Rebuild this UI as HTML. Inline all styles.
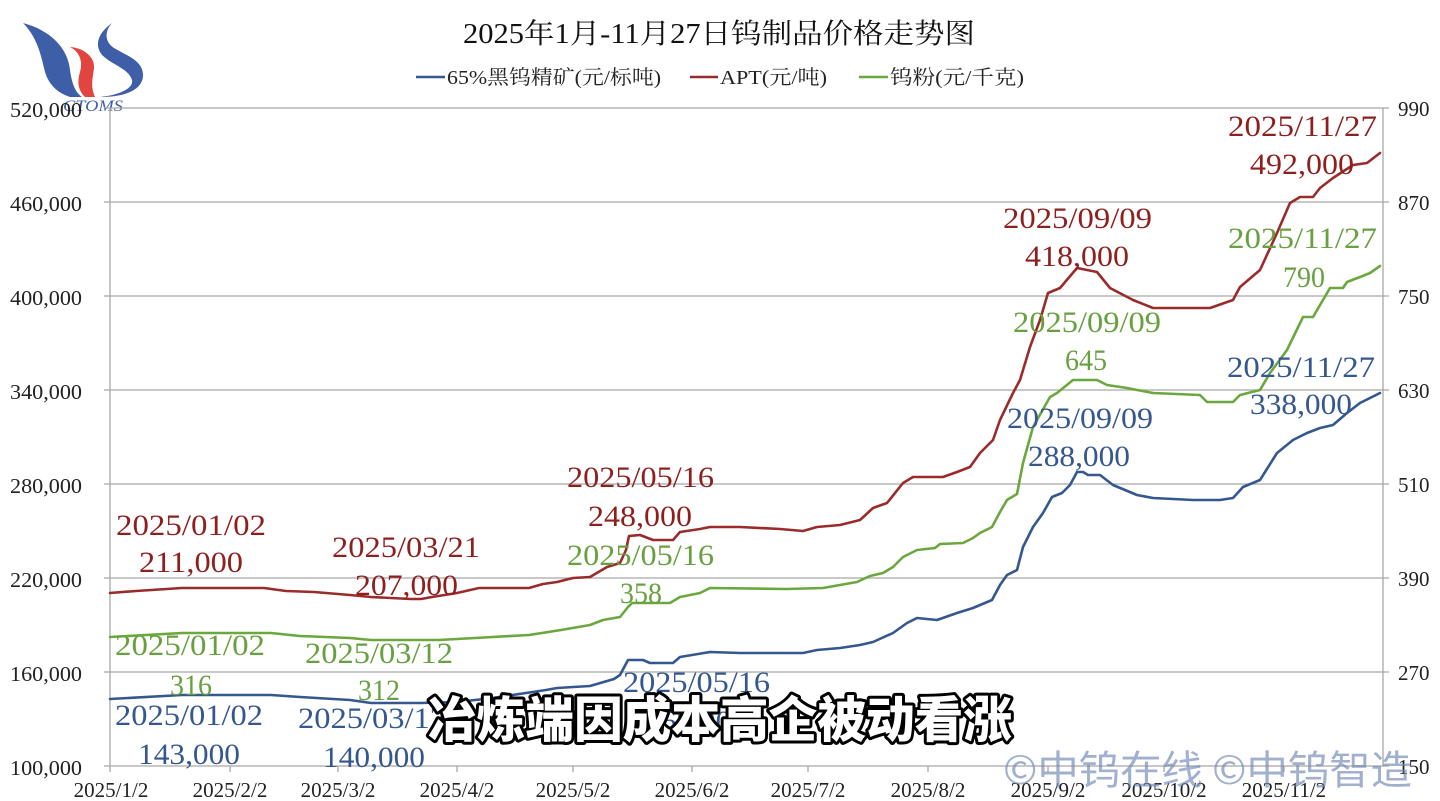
<!DOCTYPE html>
<html><head><meta charset="utf-8"><style>
html,body{margin:0;padding:0;background:#fff;}
svg{display:block;}
.ax{font-family:"Liberation Serif","Noto Serif CJK SC",serif;font-size:21px;fill:#222;}
.lb{font-family:"Liberation Serif","Noto Serif CJK SC",serif;font-size:30px;}
.r{fill:#8e1f1f;} .g{fill:#68a040;} .b{fill:#34578f;}
</style></head><body>
<svg width="1440" height="801" viewBox="0 0 1440 801" xmlns="http://www.w3.org/2000/svg">
<rect width="1440" height="801" fill="#fff"/>
<!-- logo -->
<path d="M23,23 C50,30 68,48 70,70 C72,85 76,93 82,97 L70,97 C55,92 47,82 44,68 C40,50 35,35 23,23 Z" fill="#3f5ea8"/>
<path d="M70,47 C85,48 95,58 94,68 C93,78 90,85 95,97 L85,97 C78,90 77,82 80,72 C83,62 80,52 70,47 Z" fill="#e0463f"/>
<path d="M112,23 C98,33 94,45 102,55 C112,65 128,68 132,80 C134,88 120,95 100,97 C125,97 143,90 143,75 C143,60 125,55 114,48 C105,42 104,32 112,23 Z" fill="#3f5ea8"/>
<text x="63" y="111" font-family="Liberation Serif,serif" font-style="italic" font-size="16" fill="#3f5ea8" textLength="60" lengthAdjust="spacingAndGlyphs">CTOMS</text>
<!-- title -->
<text x="463" y="43" font-family="Liberation Serif,'Noto Serif CJK SC',serif" font-size="28" fill="#111" textLength="512" lengthAdjust="spacingAndGlyphs">2025年1月-11月27日钨制品价格走势图</text>
<!-- legend -->
<line x1="416" y1="77" x2="445" y2="77" stroke="#34578f" stroke-width="2.5"/>
<text x="447" y="84" font-family="Liberation Serif,'Noto Serif CJK SC',serif" font-size="20" fill="#222" textLength="214" lengthAdjust="spacingAndGlyphs">65%黑钨精矿(元/标吨)</text>
<line x1="690" y1="77" x2="718" y2="77" stroke="#9a2b2b" stroke-width="2.5"/>
<text x="720" y="84" font-family="Liberation Serif,'Noto Serif CJK SC',serif" font-size="20" fill="#222" textLength="107" lengthAdjust="spacingAndGlyphs">APT(元/吨)</text>
<line x1="859" y1="77" x2="888" y2="77" stroke="#6aa83e" stroke-width="2.5"/>
<text x="890" y="84" font-family="Liberation Serif,'Noto Serif CJK SC',serif" font-size="20" fill="#222" textLength="134" lengthAdjust="spacingAndGlyphs">钨粉(元/千克)</text>
<!-- grid -->
<g stroke="#a8a8a8" stroke-width="1.3">
<line x1="104" y1="108" x2="1389" y2="108"/>
<line x1="104" y1="202" x2="1389" y2="202"/>
<line x1="104" y1="296" x2="1389" y2="296"/>
<line x1="104" y1="390" x2="1389" y2="390"/>
<line x1="104" y1="484" x2="1389" y2="484"/>
<line x1="104" y1="578" x2="1389" y2="578"/>
<line x1="104" y1="672" x2="1389" y2="672"/>
<line x1="104" y1="766" x2="1389" y2="766"/>
<line x1="110" y1="108" x2="110" y2="772"/>
<line x1="1383" y1="108" x2="1383" y2="766"/>
<line x1="230" y1="766" x2="230" y2="772"/>
<line x1="338" y1="766" x2="338" y2="772"/>
<line x1="457" y1="766" x2="457" y2="772"/>
<line x1="573" y1="766" x2="573" y2="772"/>
<line x1="692" y1="766" x2="692" y2="772"/>
<line x1="808" y1="766" x2="808" y2="772"/>
<line x1="928" y1="766" x2="928" y2="772"/>
<line x1="1048" y1="766" x2="1048" y2="772"/>
<line x1="1164" y1="766" x2="1164" y2="772"/>
<line x1="1284" y1="766" x2="1284" y2="772"/>
</g>
<!-- left axis labels -->
<g class="ax" text-anchor="end">
<text x="82" y="117" textLength="72" lengthAdjust="spacingAndGlyphs">520,000</text>
<text x="82" y="211" textLength="72" lengthAdjust="spacingAndGlyphs">460,000</text>
<text x="82" y="305" textLength="72" lengthAdjust="spacingAndGlyphs">400,000</text>
<text x="82" y="399" textLength="72" lengthAdjust="spacingAndGlyphs">340,000</text>
<text x="82" y="493" textLength="72" lengthAdjust="spacingAndGlyphs">280,000</text>
<text x="82" y="587" textLength="72" lengthAdjust="spacingAndGlyphs">220,000</text>
<text x="82" y="681" textLength="72" lengthAdjust="spacingAndGlyphs">160,000</text>
<text x="82" y="775" textLength="72" lengthAdjust="spacingAndGlyphs">100,000</text>
</g>
<g class="ax">
<text x="1398" y="116">990</text>
<text x="1398" y="210">870</text>
<text x="1398" y="304">750</text>
<text x="1398" y="398">630</text>
<text x="1398" y="492">510</text>
<text x="1398" y="586">390</text>
<text x="1398" y="680">270</text>
<text x="1398" y="774">150</text>
</g>
<g class="ax" text-anchor="middle">
<text x="111" y="797">2025/1/2</text>
<text x="230" y="797">2025/2/2</text>
<text x="338" y="797">2025/3/2</text>
<text x="457" y="797">2025/4/2</text>
<text x="573" y="797">2025/5/2</text>
<text x="692" y="797">2025/6/2</text>
<text x="808" y="797">2025/7/2</text>
<text x="928" y="797">2025/8/2</text>
<text x="1048" y="797">2025/9/2</text>
<text x="1164" y="797">2025/10/2</text>
<text x="1284" y="797">2025/11/2</text>
</g>
<!-- series -->
<g fill="none" stroke-width="2.6" stroke-linejoin="round" stroke-linecap="round">
<polyline stroke="#9a2b2b" points="110,593 136,591 182,588 264,588 286,591 314,592 350,595 371,597 411,599 421,599 432,597 457,593 479,588 529,588 543,584 557,582 573,578 590,577 607,567 620,563 626,550 629,536 640,535 653,540 673,540 680,532 700,529 710,527 740,527 780,529 803,531 817,527 840,525 860,520 873,508 887,503 903,483 913,477 943,477 957,472 970,467 980,453 993,440 1000,420 1013,393 1020,380 1030,347 1040,320 1048,293 1060,288 1077,268 1097,272 1110,288 1133,300 1153,308 1210,308 1233,300 1240,287 1260,270 1277,233 1290,203 1300,197 1313,197 1320,188 1333,178 1353,165 1367,163 1380,153"/>
<polyline stroke="#6aa83e" points="110,637 182,633 271,633 300,636 350,638 371,640 439,640 475,638 529,635 561,630 590,625 603,620 620,617 628,607 632,603 670,603 680,597 700,593 710,588 787,589 823,588 840,585 857,582 870,576 883,573 893,567 903,557 917,550 935,548 940,544 963,543 973,538 980,533 992,527 1000,512 1007,500 1017,494 1023,463 1033,427 1050,397 1057,393 1073,380 1097,380 1107,385 1127,388 1153,393 1200,395 1207,402 1233,402 1240,395 1260,390 1270,373 1287,350 1303,317 1313,317 1330,288 1343,288 1347,282 1360,277 1370,273 1380,266"/>
<polyline stroke="#34578f" points="110,699 182,695 271,695 300,697 350,700 371,703 421,703 457,702 493,698 546,690 557,688 590,686 614,679 620,675 628,660 643,660 650,663 673,663 680,657 710,652 740,653 803,653 817,650 840,648 860,645 873,642 893,633 907,623 917,618 937,620 957,613 973,608 992,600 1000,585 1007,575 1017,570 1023,547 1033,527 1043,513 1052,497 1062,493 1070,485 1077,472 1083,472 1088,475 1100,475 1113,485 1137,495 1153,498 1193,500 1220,500 1233,498 1243,487 1260,480 1277,453 1293,440 1307,433 1320,428 1333,425 1347,413 1360,403 1380,393"/>
</g>
<!-- data labels -->
<g class="lb">
<text class="r" x="116" y="535" textLength="150" lengthAdjust="spacingAndGlyphs">2025/01/02</text>
<text class="r" x="139" y="572" textLength="104" lengthAdjust="spacingAndGlyphs">211,000</text>
<text class="r" x="332" y="557" textLength="148" lengthAdjust="spacingAndGlyphs">2025/03/21</text>
<text class="r" x="355" y="595" textLength="103" lengthAdjust="spacingAndGlyphs">207,000</text>
<text class="r" x="567" y="487" textLength="147" lengthAdjust="spacingAndGlyphs">2025/05/16</text>
<text class="r" x="588" y="526" textLength="104" lengthAdjust="spacingAndGlyphs">248,000</text>
<text class="r" x="1003" y="228" textLength="149" lengthAdjust="spacingAndGlyphs">2025/09/09</text>
<text class="r" x="1025" y="266" textLength="104" lengthAdjust="spacingAndGlyphs">418,000</text>
<text class="r" x="1228" y="136" textLength="149" lengthAdjust="spacingAndGlyphs">2025/11/27</text>
<text class="r" x="1250" y="174" textLength="104" lengthAdjust="spacingAndGlyphs">492,000</text>

<text class="g" x="115" y="655" textLength="150" lengthAdjust="spacingAndGlyphs">2025/01/02</text>
<text class="g" x="170" y="695" textLength="42" lengthAdjust="spacingAndGlyphs">316</text>
<text class="g" x="305" y="663" textLength="148" lengthAdjust="spacingAndGlyphs">2025/03/12</text>
<text class="g" x="358" y="700" textLength="42" lengthAdjust="spacingAndGlyphs">312</text>
<text class="g" x="567" y="565" textLength="147" lengthAdjust="spacingAndGlyphs">2025/05/16</text>
<text class="g" x="620" y="603" textLength="42" lengthAdjust="spacingAndGlyphs">358</text>
<text class="g" x="1013" y="332" textLength="148" lengthAdjust="spacingAndGlyphs">2025/09/09</text>
<text class="g" x="1065" y="370" textLength="42" lengthAdjust="spacingAndGlyphs">645</text>
<text class="g" x="1228" y="248" textLength="149" lengthAdjust="spacingAndGlyphs">2025/11/27</text>
<text class="g" x="1283" y="287" textLength="42" lengthAdjust="spacingAndGlyphs">790</text>

<text class="b" x="115" y="725" textLength="148" lengthAdjust="spacingAndGlyphs">2025/01/02</text>
<text class="b" x="138" y="764" textLength="102" lengthAdjust="spacingAndGlyphs">143,000</text>
<text class="b" x="298" y="728" textLength="148" lengthAdjust="spacingAndGlyphs">2025/03/12</text>
<text class="b" x="323" y="767" textLength="102" lengthAdjust="spacingAndGlyphs">140,000</text>
<text class="b" x="623" y="692" textLength="147" lengthAdjust="spacingAndGlyphs">2025/05/16</text>
<text class="b" x="645" y="731" textLength="102" lengthAdjust="spacingAndGlyphs">168,000</text>
<text class="b" x="1007" y="428" textLength="146" lengthAdjust="spacingAndGlyphs">2025/09/09</text>
<text class="b" x="1028" y="466" textLength="102" lengthAdjust="spacingAndGlyphs">288,000</text>
<text class="b" x="1227" y="377" textLength="148" lengthAdjust="spacingAndGlyphs">2025/11/27</text>
<text class="b" x="1250" y="414" textLength="102" lengthAdjust="spacingAndGlyphs">338,000</text>
</g>
<!-- subtitle -->
<text x="428" y="737" font-family="'Noto Sans CJK SC','WenQuanYi Zen Hei',sans-serif" font-weight="900" font-size="49" fill="#fff" stroke="#000" stroke-width="6" stroke-linejoin="round" paint-order="stroke" textLength="584" lengthAdjust="spacingAndGlyphs">冶炼端因成本高企被动看涨</text>
<!-- watermark -->
<text x="1003" y="784" font-family="'Noto Sans CJK SC','WenQuanYi Zen Hei',sans-serif" font-size="40" fill="#6f86b5" fill-opacity="0.65" textLength="409" lengthAdjust="spacingAndGlyphs">©中钨在线 ©中钨智造</text>
</svg>
</body></html>
